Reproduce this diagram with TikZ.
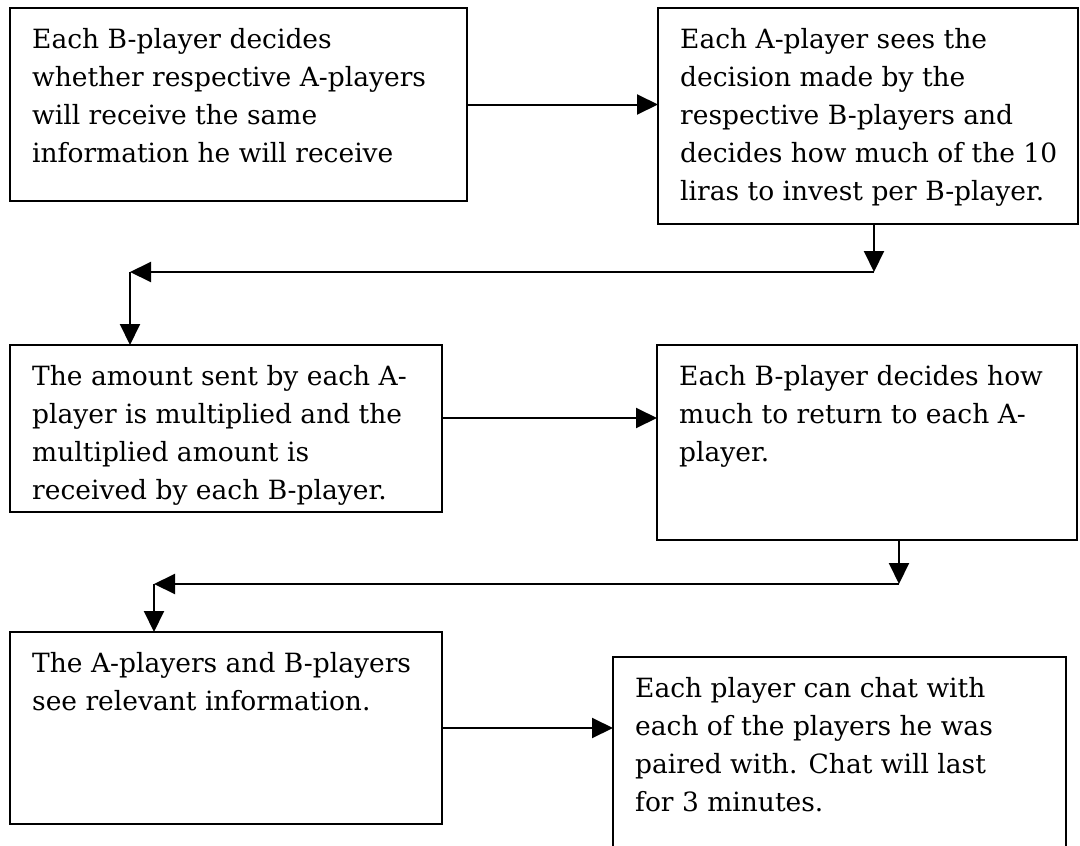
\documentclass[tikz,border=0pt]{standalone}
\usepackage{fontspec}
\setmainfont{DejaVu Serif}
\usetikzlibrary{arrows.meta,calc}
\begin{document}
\begin{tikzpicture}[x=1pt,y=-1pt,
  box/.style={draw=black,line width=2.8pt,inner sep=0pt,outer sep=0pt,anchor=north west},
  txt/.style={inner sep=0pt,anchor=north west,align=left,font=\fontsize{26.5}{38}\selectfont},
  arr/.style={line width=2pt,-{Triangle[length=21pt,width=20pt]}}]
\useasboundingbox (0,0) rectangle (1080,846);
% boxes
\node[box,minimum width=457pt,minimum height=193pt] (b1) at (10,8) {};
\node[box,minimum width=420pt,minimum height=216pt] (b2) at (658,8) {};
\node[box,minimum width=432pt,minimum height=167pt] (b3) at (10,345) {};
\node[box,minimum width=420pt,minimum height=195pt] (b4) at (657,345) {};
\node[box,minimum width=432pt,minimum height=192pt] (b5) at (10,632) {};
\node[box,minimum width=453pt,minimum height=200pt] (b6) at (613,657) {};
% texts
\node[txt] (t1) at ($(b1.north west)+(22,20)$) {Each B-player decides\\whether respective A-players\\will receive the same\\information he will receive};
\node[txt] (t2) at ($(b2.north west)+(22,20)$) {Each A-player sees the\\decision made by the\\respective B-players and\\decides how much of the 10\\liras to invest per B-player.};
\node[txt] (t3) at ($(b3.north west)+(22,20)$) {The amount sent by each A-\\player is multiplied and the\\multiplied amount is\\received by each B-player.};
\node[txt] (t4) at ($(b4.north west)+(22,20)$) {Each B-player decides how\\much to return to each A-\\player.};
\node[txt] (t5) at ($(b5.north west)+(22,20)$) {The A-players and B-players\\see relevant information.};
\node[txt] (t6) at ($(b6.north west)+(22,20)$) {Each player can chat with\\each of the players he was\\paired with. Chat will last\\for 3 minutes.};
% connectors
\coordinate (c1) at (874,272);
\coordinate (c2) at (130,272);
\coordinate (c3) at (899,584);
\coordinate (c4) at (154,584);
\draw[arr] (b1.east) -- (b1.east -| b2.west);
\draw[arr] (c1 |- b2.south) -- (c1);
\draw[arr] (c1) -- (c2);
\draw[arr] (c2) -- (c2 |- b3.north);
\draw[arr] (b3.east |- 0,418) -- (b4.west |- 0,418);
\draw[arr] (c3 |- b4.south) -- (c3);
\draw[arr] (c3) -- (c4);
\draw[arr] (c4) -- (c4 |- b5.north);
\draw[arr] (b5.east |- 0,728) -- (b6.west |- 0,728);
\end{tikzpicture}
\end{document}
